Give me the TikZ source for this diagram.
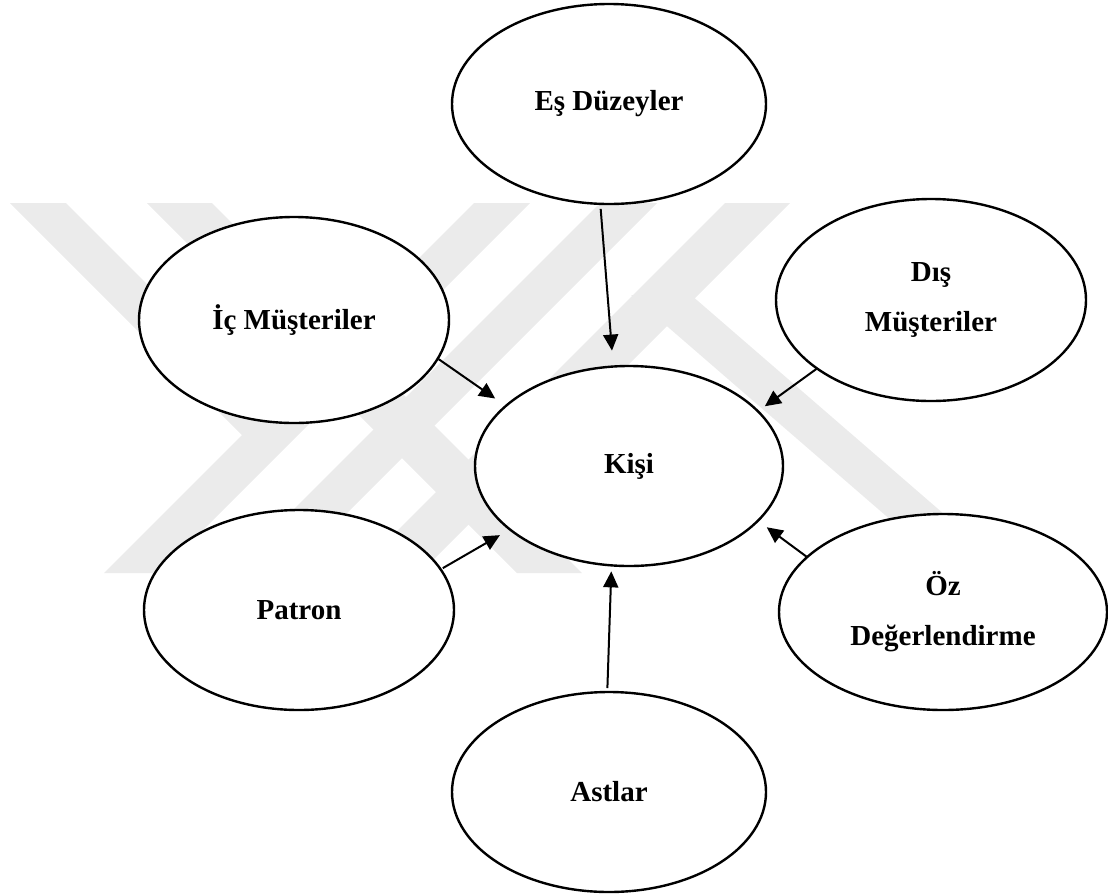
\documentclass[tikz,border=0pt]{standalone}
\usepackage{fontspec}
\setmainfont{Liberation Serif}
\usetikzlibrary{arrows.meta,shapes.geometric}
\begin{document}
\begin{tikzpicture}[x=1pt,y=-1pt,
  bubble/.style={ellipse,draw,line width=2.4pt,fill=white,inner sep=0pt,outer sep=0pt,
    align=center,font=\fontsize{29}{50}\selectfont\bfseries},
  arr/.style={line width=2pt,-{Triangle[length=16pt,width=15pt]}},
  wm/.style={fill=black!8,draw=none}]
\useasboundingbox (0,0) rectangle (1108,895);
% faint watermark
\begin{scope}
\clip (0,203) rectangle (1108,573);
\fill[wm] (474,203) -- (530,203) -- (160,573) -- (104,573) -- cycle;
\fill[wm] (10,203) -- (66,203) -- (280,417) -- (252,445) -- cycle;
\fill[wm] (600,203) -- (657,203) -- (287,573) -- (230,573) -- cycle;
\fill[wm] (147,203) -- (212,203) -- (582,573) -- (517,573) -- cycle;
\fill[wm] (725,203) -- (790,203) -- (420,573) -- (355,573) -- cycle;
\fill[wm] (631,295) -- (691,295) -- (1012,573) -- (952,573) -- cycle;
\end{scope}
% nodes
\node[bubble,minimum width=314pt,minimum height=200pt] (es) at (609,104) {Eş Düzeyler};
\node[bubble,minimum width=310pt,minimum height=206pt] (ic) at (294,320) {İç Müşteriler};
\node[bubble,minimum width=310pt,minimum height=202pt] (di) at (931,300) {Dış\\Müşteriler};
\node[bubble,minimum width=308pt,minimum height=200pt] (ki) at (629,466) {Kişi};
\node[bubble,minimum width=310pt,minimum height=200pt] (pa) at (299,610) {Patron};
\node[bubble,minimum width=328pt,minimum height=196pt] (oz) at (943,612) {Öz\\Değerlendirme};
\node[bubble,minimum width=314pt,minimum height=200pt] (as) at (609,792) {Astlar};
% connectors
\draw[arr,shorten <=5pt,shorten >=16pt] (es.265.6) -- (ki.99.4);
\draw[arr,shorten <=1pt,shorten >=13pt] (ic.-15) -- (ki.154.5);
\draw[arr,shorten >=8.6pt] (di.211.8) -- (ki.23.5);
\draw[arr,shorten <=2.5pt,shorten >=11.5pt] (pa.16.7) -- (ki.208.1);
\draw[arr,shorten >=11pt] (oz.158.3) -- (ki.-23);
\draw[arr,shorten <=4pt,shorten >=6pt] (as.91.7) -- (ki.260.3);
\end{tikzpicture}
\end{document}
